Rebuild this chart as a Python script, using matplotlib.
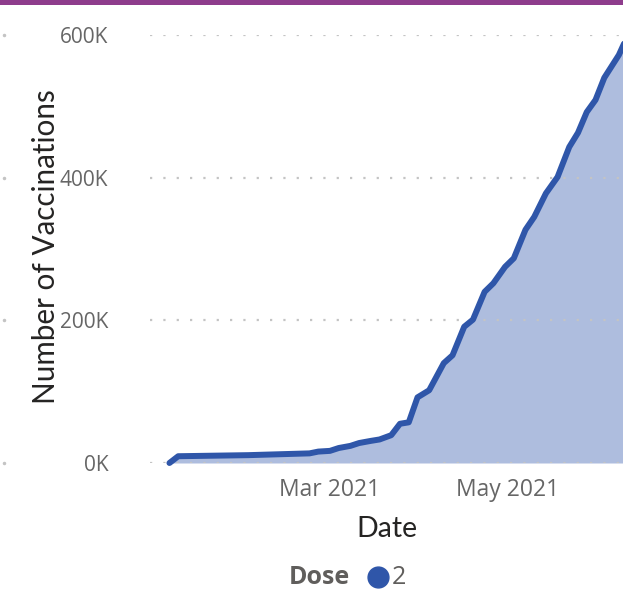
import matplotlib
matplotlib.use("Agg")
import matplotlib.pyplot as plt
import matplotlib.dates as mdates
from matplotlib.lines import Line2D
from matplotlib.patches import Rectangle
import pandas as pd

# cumulative second-dose vaccinations
dates = ["2021-01-05", "2021-01-08", "2021-02-01", "2021-02-22", "2021-02-25",
         "2021-03-01", "2021-03-04", "2021-03-08", "2021-03-11", "2021-03-15",
         "2021-03-18", "2021-03-22", "2021-03-25", "2021-03-28", "2021-03-31",
         "2021-04-04", "2021-04-09", "2021-04-12", "2021-04-16", "2021-04-19",
         "2021-04-23", "2021-04-26", "2021-04-30", "2021-05-03", "2021-05-07",
         "2021-05-10", "2021-05-14", "2021-05-18", "2021-05-22", "2021-05-25",
         "2021-05-28", "2021-05-31", "2021-06-03", "2021-06-08", "2021-06-10"]
vaccinations = [0, 9500, 11000, 13500, 16000,
                17000, 21000, 24000, 28000, 31000,
                33000, 39000, 55000, 57000, 92000,
                102000, 140000, 151000, 191000, 201000,
                240000, 252000, 275000, 287000, 327000,
                345000, 378000, 401000, 443000, 463000,
                492000, 509000, 540000, 572000, 590000]
y_ticks = [0, 200000, 400000, 600000]
y_tick_labels = ["0K", "200K", "400K", "600K"]
x_ticks = ["2021-03-01", "2021-05-01"]
legend_title = "Dose"
legend_label = "2"

df = pd.DataFrame({"date": pd.to_datetime(dates), "n": vaccinations})

line_color = "#2F56A9"
fill_color = "#AEBDDE"
grid_color = "#C4C4C4"
tick_color = "#666666"

fig = plt.figure(figsize=(6.23, 5.91), dpi=100)
ax = fig.add_axes([150 / 623, 128 / 591, 473 / 623, 428 / 591])

ax.fill_between(df["date"], df["n"], 0, color=fill_color, lw=0, zorder=1)
ax.plot(df["date"], df["n"], color=line_color, lw=4.3, solid_capstyle="round",
        solid_joinstyle="round", zorder=3, clip_on=False)

for t in y_ticks:
    ax.axhline(t, color=grid_color, lw=1.6, ls=(0, (1, 5)), zorder=2)

ax.set_xlim(pd.Timestamp("2020-12-29 08:00"), pd.Timestamp("2021-06-09 10:00"))
ax.set_ylim(0, 600000)
ax.set_yticks(y_ticks)
ax.set_yticklabels(y_tick_labels)
ax.set_xticks(pd.to_datetime(x_ticks))
ax.xaxis.set_major_formatter(mdates.DateFormatter("%b %Y"))

for s in ax.spines.values():
    s.set_visible(False)
ax.tick_params(axis="both", length=0, labelcolor=tick_color)
ax.tick_params(axis="y", pad=30, labelsize=15)
ax.tick_params(axis="x", pad=11, labelsize=16.5)
for lbl in ax.get_xticklabels() + ax.get_yticklabels():
    lbl.set_family("Open Sans")

ax.set_xlabel("Date", fontsize=20.5, color="#252423", family="Lato", labelpad=10)
ax.set_ylabel("Number of Vaccinations", fontsize=21.3, color="#252423",
              family="Lato")
ax.yaxis.set_label_coords(-0.19, 0.505)

# stray gridline dots from the neighbouring visual
for t in y_ticks:
    yy = (128 + t / 600000 * 428) / 591
    fig.add_artist(Line2D([4 / 623], [yy], marker="o", ms=1.5, color=grid_color,
                          transform=fig.transFigure))

# header band
fig.add_artist(Rectangle((0, 1 - 5 / 591), 1, 5 / 591, transform=fig.transFigure,
                         color="#8E3C8C", lw=0))

# legend
fig.text(350 / 623, 1 - 577 / 591, legend_title, fontsize=18, fontweight="bold",
         color="#605E5C", family="Open Sans", ha="right", va="center")
fig.add_artist(Line2D([378 / 623], [1 - 577 / 591], marker="o", ms=15,
                      color=line_color, transform=fig.transFigure))
fig.text(392 / 623, 1 - 577 / 591, legend_label, fontsize=18, color="#605E5C",
         family="Open Sans", ha="left", va="center")

fig.savefig("out.png", dpi=100)
